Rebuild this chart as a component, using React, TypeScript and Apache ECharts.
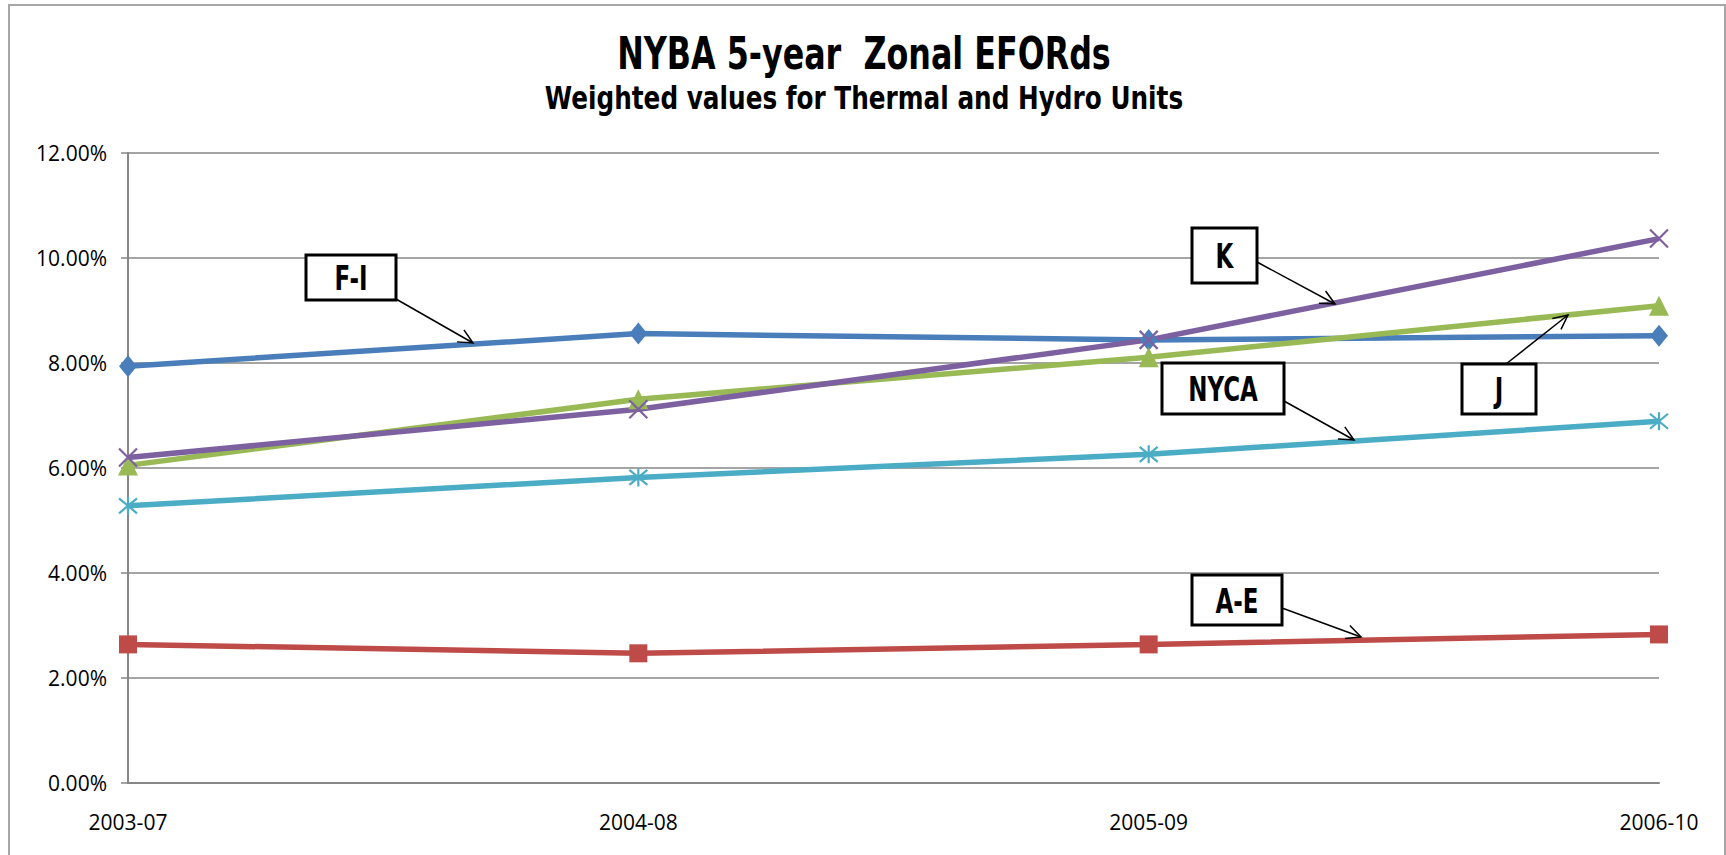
import React, { useEffect, useRef } from "react";
import * as echarts from "echarts";

const categories = ["2003-07", "2004-08", "2005-09", "2006-10"];
const seriesNames = ["F-I", "A-E", "J", "K", "NYCA"];
const valuesFI = [0.0794, 0.0856, 0.0844, 0.0852];
const valuesAE = [0.0264, 0.0247, 0.0264, 0.0283];
const valuesJ = [0.0605, 0.0731, 0.0811, 0.0909];
const valuesK = [0.062, 0.0712, 0.0844, 0.1037];
const valuesNYCA = [0.0528, 0.0582, 0.0626, 0.0689];
const yTicks = { min: 0, max: 0.12, interval: 0.02 };

const titleText = "NYBA 5-year  Zonal EFORds";
const subtitleText = "Weighted values for Thermal and Hydro Units";

const colors = {
  fi: "#4A7EBB",
  ae: "#BE4B48",
  j: "#98B954",
  k: "#7D60A0",
  nyca: "#4BACC6",
};

// annotation boxes: [label, x, y, w, h, arrowFrom, arrowTo]
const annotations: Array<[string, number, number, number, number, [number, number], [number, number]]> = [
  ["F-I", 306, 255, 90, 45, [396, 299], [473, 343]],
  ["K", 1192, 228, 65, 55, [1257, 262], [1335, 304]],
  ["J", 1462, 364, 74, 50, [1506, 364], [1568, 315]],
  ["NYCA", 1162, 363, 122, 51, [1284, 401], [1354, 440]],
  ["A-E", 1192, 575, 90, 50, [1282, 608], [1361, 637]],
];

const narrowBold = "'Liberation Sans Narrow', 'DejaVu Sans Condensed', 'Roboto', sans-serif";
const axisFont = "'Open Sans', 'Noto Sans', sans-serif";

function buildGraphics() {
  const els: any[] = [];
  els.push({
    type: "rect",
    shape: { x: 9, y: 5, width: 1716, height: 900 },
    style: { fill: "none", stroke: "#A6A6A6", lineWidth: 2 },
    silent: true,
    z: 0,
  });
  els.push({
    type: "text",
    x: 864,
    y: 53,
    scaleX: 0.785,
    style: {
      text: titleText,
      fill: "#000",
      font: `bold 45px ${narrowBold}`,
      align: "center",
      verticalAlign: "middle",
    },
    z: 5,
  });
  els.push({
    type: "text",
    x: 864,
    y: 98,
    scaleX: 0.86,
    style: {
      text: subtitleText,
      fill: "#000",
      font: `bold 32px ${narrowBold}`,
      align: "center",
      verticalAlign: "middle",
    },
    z: 5,
  });
  annotations.forEach(([label, x, y, w, h, from, to]) => {
    const dx = to[0] - from[0];
    const dy = to[1] - from[1];
    const ang = Math.atan2(dy, dx);
    const len = 16;
    const spread = Math.PI / 7;
    const p1 = [to[0] - len * Math.cos(ang - spread), to[1] - len * Math.sin(ang - spread)];
    const p2 = [to[0] - len * Math.cos(ang + spread), to[1] - len * Math.sin(ang + spread)];
    els.push({
      type: "line",
      shape: { x1: from[0], y1: from[1], x2: to[0], y2: to[1] },
      style: { stroke: "#000", lineWidth: 1.5 },
      z: 10,
    });
    els.push({
      type: "polyline",
      shape: { points: [p1, to, p2] },
      style: { stroke: "#000", lineWidth: 1.5, fill: "none" },
      z: 10,
    });
    els.push({
      type: "rect",
      shape: { x, y, width: w, height: h },
      style: { fill: "#fff", stroke: "#000", lineWidth: 3 },
      z: 11,
    });
    els.push({
      type: "text",
      x: x + w / 2,
      y: y + h / 2 + 1,
      scaleX: 0.75,
      style: {
        text: label,
        fill: "#000",
        font: `bold 34px ${narrowBold}`,
        align: "center",
        verticalAlign: "middle",
      },
      z: 12,
    });
  });
  return els;
}

export default function App() {
  const ref = useRef<HTMLDivElement>(null);
  useEffect(() => {
    if (!ref.current) return;
    const chart = echarts.init(ref.current, undefined, { renderer: "svg" });
    const lineSeries = (name: string, data: number[], color: string, symbol: string, size: any, stroke = false) => ({
      name,
      type: "line",
      data,
      symbol,
      symbolSize: size,
      showAllSymbol: true,
      lineStyle: { color, width: 5.5 },
      itemStyle: stroke
        ? { color: "rgba(0,0,0,0)", borderColor: color, borderWidth: 2.2 }
        : { color, borderWidth: 0 },
      emphasis: { disabled: true },
    });
    chart.setOption({
      animation: false,
      backgroundColor: "#fff",
      grid: { left: 128, right: 67, top: 153, bottom: 72, containLabel: false },
      xAxis: {
        type: "category",
        data: categories,
        boundaryGap: false,
        axisLine: { lineStyle: { color: "#868686", width: 2 } },
        axisTick: { show: false },
        axisLabel: { color: "#000", fontFamily: axisFont, fontSize: 21, margin: 28, interval: 0 },
        splitLine: { show: false },
      },
      yAxis: {
        type: "value",
        min: yTicks.min,
        max: yTicks.max,
        interval: yTicks.interval,
        axisLine: { show: true, lineStyle: { color: "#868686", width: 2 } },
        axisTick: { show: true, length: 7, lineStyle: { color: "#868686", width: 1.5 } },
        axisLabel: {
          color: "#000",
          fontFamily: axisFont,
          fontSize: 21,
          margin: 21,
          formatter: (v: number) => (v * 100).toFixed(2) + "%",
        },
        splitLine: { show: true, lineStyle: { color: "#868686", width: 1.5 } },
      },
      series: [
        lineSeries(seriesNames[0], valuesFI, colors.fi, "diamond", [18, 22]),
        lineSeries(seriesNames[1], valuesAE, colors.ae, "rect", 18),
        lineSeries(seriesNames[2], valuesJ, colors.j, "triangle", 20),
        lineSeries(seriesNames[3], valuesK, colors.k, "path://M0,0L10,10M10,0L0,10", 18, true),
        lineSeries(seriesNames[4], valuesNYCA, colors.nyca, "path://M0,0L10,10M10,0L0,10M5,-1L5,11", 18, true),
      ],
      graphic: buildGraphics(),
    });
    return () => chart.dispose();
  }, []);
  return <div ref={ref} style={{ position: "fixed", left: 0, top: 0, width: 1726, height: 855 }} />;
}
